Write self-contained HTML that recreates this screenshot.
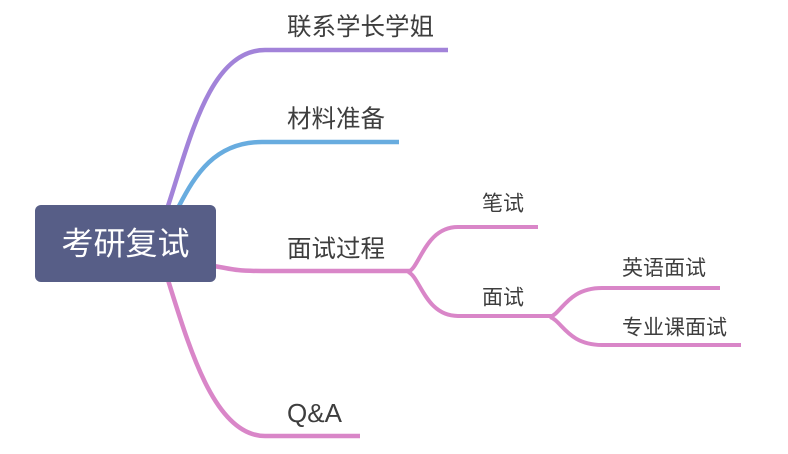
<!DOCTYPE html>
<html>
<head>
<meta charset="utf-8">
<style>
  html, body { margin: 0; padding: 0; background: #ffffff; }
  svg { display: block; }
  text { font-family: "Liberation Sans", "Noto Sans CJK SC", sans-serif; fill: #3e3e3e; }
</style>
</head>
<body>
<svg width="788" height="454" viewBox="0 0 788 454" xmlns="http://www.w3.org/2000/svg">
  <rect width="788" height="454" fill="#ffffff"/>
  <g fill="none" stroke-linecap="butt">
    <!-- purple -->
    <path d="M168,206 C190,139 210,50 265,50 L448,50" stroke="#a283d9" stroke-width="4.5"/>
    <!-- blue -->
    <path d="M179,206 C195,175 215,142 262,142 L399,142" stroke="#68acdf" stroke-width="4.5"/>
    <!-- pink main -->
    <path d="M214,266 C235,270 240,271 262,271 L410,271" stroke="#d986c8" stroke-width="4.5"/>
    <path d="M408,272 C420,268 425,227 458,227 L538,227" stroke="#d986c8" stroke-width="4"/>
    <path d="M408,272 C420,276 425,316 458,316 L552,316" stroke="#d986c8" stroke-width="4"/>
    <path d="M550,317 C562,313 568,288 602,288 L720,288" stroke="#d986c8" stroke-width="4"/>
    <path d="M550,317 C562,321 568,345 602,345 L741,345" stroke="#d986c8" stroke-width="4"/>
    <!-- Q&A -->
    <path d="M168,280 C190,350 215,436 265,436 L360,436" stroke="#d986c8" stroke-width="4.5"/>
  </g>
  <!-- root -->
  <rect x="35" y="205" width="181" height="77" rx="6" ry="6" fill="#575e87"/>
  <text x="125.5" y="254.5" font-size="32" text-anchor="middle" style="fill:#ffffff">考研复试</text>
  <!-- main topics -->
  <text x="287" y="35" font-size="24.5">联系学长学姐</text>
  <text x="287" y="127" font-size="24.5">材料准备</text>
  <text x="287" y="257" font-size="24.5">面试过程</text>
  <text x="287" y="422" font-size="26">Q&amp;A</text>
  <!-- sub topics -->
  <text x="482" y="210.5" font-size="21">笔试</text>
  <text x="482" y="304.5" font-size="21">面试</text>
  <text x="622" y="275" font-size="21">英语面试</text>
  <text x="622" y="334.5" font-size="21">专业课面试</text>
</svg>
</body>
</html>
